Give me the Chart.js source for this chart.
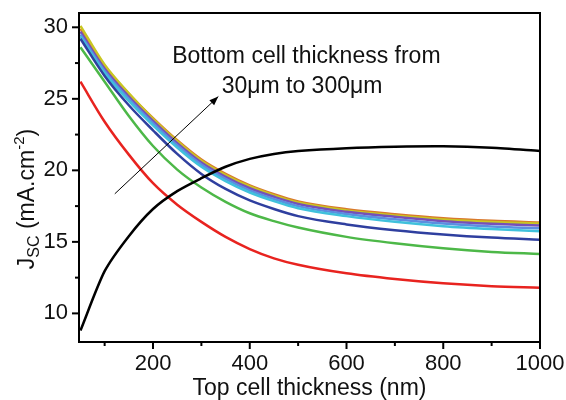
<!DOCTYPE html>
<html>
<head>
<meta charset="utf-8">
<script src="https://cdn.jsdelivr.net/npm/chart.js@4.4.1/dist/chart.umd.min.js"></script>
<style>
  html, body { margin: 0; padding: 0; background: #fff; }
  #wrap { width: 566px; height: 400px; }
</style>
</head>
<body>
<div id="wrap"><canvas id="jscChart"></canvas></div>
<script>
// top cell thickness (nm)
const thickness = [50, 100, 150, 200, 250, 300, 350, 400, 450, 500, 600, 700, 800, 900, 1000];

// top cell Jsc (black)
const jscTop = [8.8, 12.95, 15.4, 17.3, 18.55, 19.45, 20.25, 20.8, 21.15, 21.35, 21.55, 21.65, 21.68, 21.58, 21.36];

// bottom cell Jsc, thin -> thick bottom cell
const jscRed    = [26.2, 23.4, 21.1, 19.1, 17.6, 16.4, 15.35, 14.5, 13.85, 13.4, 12.8, 12.4, 12.1, 11.9, 11.8];
const jscGreen  = [28.6, 26.2, 23.8, 21.7, 20.05, 18.8, 17.8, 17.0, 16.45, 16.0, 15.35, 14.9, 14.55, 14.3, 14.15];
const jscNavy   = [29.2, 26.6, 24.55, 22.8, 21.15, 19.75, 18.7, 17.9, 17.3, 16.8, 16.22, 15.82, 15.52, 15.3, 15.15];
const jscCyan   = [29.35, 26.8, 24.85, 23.15, 21.6, 20.25, 19.25, 18.45, 17.85, 17.35, 16.8, 16.4, 16.1, 15.9, 15.75];
const jscBlue   = [29.5, 26.95, 25.0, 23.3, 21.75, 20.4, 19.4, 18.6, 18.0, 17.5, 16.95, 16.58, 16.28, 16.08, 15.95];
const jscPurple = [29.7, 27.1, 25.15, 23.45, 21.9, 20.55, 19.55, 18.75, 18.15, 17.65, 17.1, 16.75, 16.45, 16.27, 16.15];
const jscYellow = [30.1, 27.38, 25.38, 23.6, 22.03, 20.67, 19.67, 18.87, 18.25, 17.75, 17.2, 16.85, 16.57, 16.39, 16.28];
const jscOrange = [29.9, 27.3, 25.35, 23.65, 22.1, 20.75, 19.75, 18.95, 18.33, 17.83, 17.28, 16.93, 16.65, 16.47, 16.36];

const xMajor = [200, 400, 600, 800, 1000];
const xMinor = [100, 300, 500, 700, 900];
const yMajor = [10, 15, 20, 25, 30];
const yMinor = [12.5, 17.5, 22.5, 27.5];

const FONT = '"Liberation Sans", Arial, sans-serif';

const pts = arr => thickness.map((t, i) => ({x: t, y: arr[i]}));

const line = (label, arr, color, extra) => Object.assign({
    label: label,
    data: pts(arr),
    borderColor: color,
    backgroundColor: color,
    borderWidth: 2.5,
    pointRadius: 0,
    cubicInterpolationMode: 'monotone',
    fill: false,
}, extra || {});

// box, ticks, annotation and y title
const decorations = {
    id: 'decorations',
    afterDatasetsDraw(chart) {
        const {ctx, chartArea: a, scales: {x, y}} = chart;
        ctx.save();
        ctx.strokeStyle = '#000';
        ctx.lineWidth = 2;
        ctx.strokeRect(a.left, a.top, a.right - a.left, a.bottom - a.top);

        const seg = (x1, y1, x2, y2) => {
            ctx.beginPath(); ctx.moveTo(x1, y1); ctx.lineTo(x2, y2); ctx.stroke();
        };
        xMajor.forEach(v => { const p = x.getPixelForValue(v); seg(p, a.bottom, p, a.bottom + 7); });
        xMinor.forEach(v => { const p = x.getPixelForValue(v); seg(p, a.bottom, p, a.bottom + 4); });
        yMajor.forEach(v => { const p = y.getPixelForValue(v); seg(a.left - 7, p, a.left, p); });
        yMinor.forEach(v => { const p = y.getPixelForValue(v); seg(a.left - 4, p, a.left, p); });

        // arrow
        const x0 = x.getPixelForValue(121), y0 = y.getPixelForValue(18.36);
        const x1 = x.getPixelForValue(335), y1 = y.getPixelForValue(25.16);
        ctx.lineWidth = 1;
        seg(x0, y0, x1, y1);
        const ang = Math.atan2(y1 - y0, x1 - x0);
        ctx.fillStyle = '#000';
        ctx.beginPath();
        ctx.moveTo(x1, y1);
        ctx.lineTo(x1 - 9 * Math.cos(ang) + 3.5 * Math.sin(ang), y1 - 9 * Math.sin(ang) - 3.5 * Math.cos(ang));
        ctx.lineTo(x1 - 9 * Math.cos(ang) - 3.5 * Math.sin(ang), y1 - 9 * Math.sin(ang) + 3.5 * Math.cos(ang));
        ctx.closePath();
        ctx.fill();

        // annotation text
        ctx.fillStyle = '#111';
        ctx.font = '23px ' + FONT;
        ctx.textAlign = 'center';
        ctx.textBaseline = 'middle';
        ctx.fillText('Bottom cell thickness from', x.getPixelForValue(517), y.getPixelForValue(27.95));
        ctx.fillText('30\u03bcm to 300\u03bcm', x.getPixelForValue(508), y.getPixelForValue(25.85));

        // y axis title with sub/superscript
        ctx.translate(26, 199);
        ctx.rotate(-Math.PI / 2);
        ctx.textAlign = 'left';
        ctx.textBaseline = 'alphabetic';
        const parts = [
            {t: 'J', size: 23, dy: 0},
            {t: 'SC', size: 16, dy: 5},
            {t: ' (mA.cm', size: 23, dy: 0},
            {t: '-2', size: 15, dy: -10},
            {t: ')', size: 23, dy: 0},
        ];
        let total = 0;
        parts.forEach(p => { ctx.font = p.size + 'px ' + FONT; p.w = ctx.measureText(p.t).width; total += p.w; });
        let cx = -total / 2;
        parts.forEach(p => {
            ctx.font = p.size + 'px ' + FONT;
            ctx.fillText(p.t, cx, 8 + p.dy);
            cx += p.w;
        });
        ctx.restore();
    }
};

new Chart(document.getElementById('jscChart'), {
    type: 'line',
    plugins: [decorations],
    data: {
        datasets: [
            line('Top cell', jscTop, '#000000', {cubicInterpolationMode: 'default', tension: 0.25}),
            line('30 um', jscRed, '#e8231f'),
            line('Bottom 2', jscGreen, '#4db848'),
            line('Bottom 3', jscNavy, '#2f3f9f'),
            line('Bottom 4', jscCyan, '#40c1dc'),
            line('Bottom 5', jscBlue, '#5b8ee0'),
            line('Bottom 6', jscPurple, '#7650b8'),
            line('Bottom 7', jscYellow, '#c9c622'),
            line('300 um', jscOrange, '#d9782c'),
        ]
    },
    options: {
        responsive: true,
        maintainAspectRatio: false,
        animation: false,
        layout: {padding: {top: 13, right: 26, left: 0, bottom: 0}},
        scales: {
            x: {
                type: 'linear',
                min: 47,
                max: 1000,
                grid: {display: false, drawTicks: false},
                border: {display: false},
                afterBuildTicks: s => { s.ticks = xMajor.map(v => ({value: v})); },
                afterFit: s => { s.height = 58; s.paddingLeft = 0; s.paddingRight = 0; },
                ticks: {
                    padding: 9,
                    color: '#111',
                    font: {family: FONT, size: 22},
                    maxRotation: 0,
                    callback: v => String(v),
                },
                title: {
                    display: true,
                    text: 'Top cell thickness (nm)',
                    color: '#111',
                    font: {family: FONT, size: 23},
                    padding: {top: 0, bottom: -2},
                },
            },
            y: {
                type: 'linear',
                min: 8,
                max: 31,
                grid: {display: false, drawTicks: false},
                border: {display: false},
                afterBuildTicks: s => { s.ticks = yMajor.map(v => ({value: v})); },
                afterFit: s => { s.width = 79; s.paddingTop = 0; s.paddingBottom = 0; },
                ticks: {
                    padding: 11,
                    color: '#111',
                    font: {family: FONT, size: 22},
                    callback: v => String(v),
                },
            },
        },
        plugins: {
            legend: {display: false},
            tooltip: {enabled: false},
        },
    },
});
</script>
</body>
</html>
